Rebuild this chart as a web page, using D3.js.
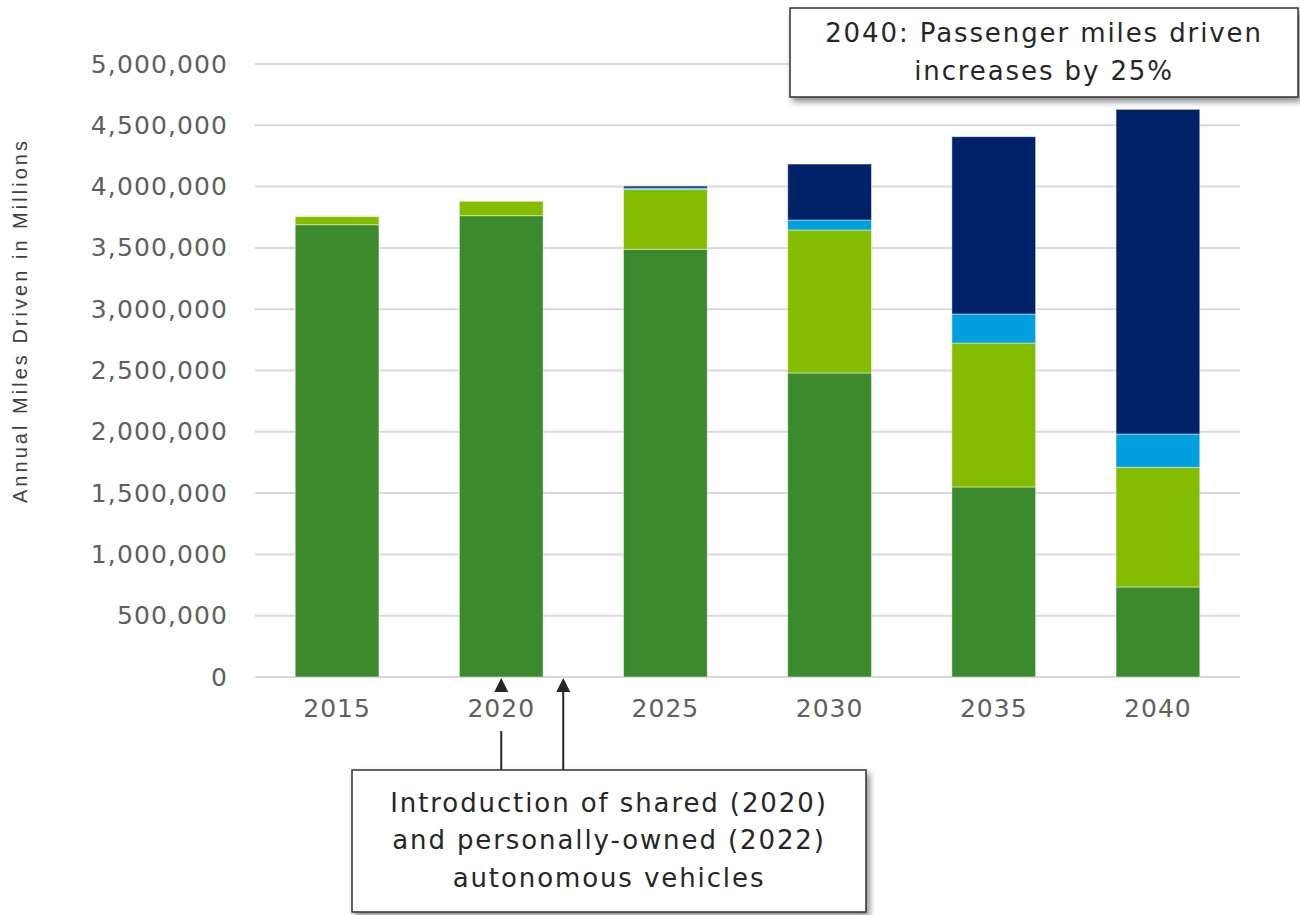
<!DOCTYPE html>
<html><head><meta charset="utf-8">
<script src="https://cdn.jsdelivr.net/npm/d3@7"></script>
<style>body{margin:0;background:#fff}svg{display:block}</style>
</head><body>
<svg id="c" width="1300" height="915"></svg>
<script>
const years = ["2015","2020","2025","2030","2035","2040"];
const seriesNames = ["Conventional vehicles","Personally-owned autonomous","Shared autonomous (personal)","Shared autonomous"];
const conventional = [3689000, 3763000, 3489000, 2480000, 1550000, 734000];
const personalAV   = [66000, 117000, 487000, 1166000, 1174000, 976000];
const sharedSmall  = [0, 0, 12000, 81000, 237000, 272000];
const sharedLarge  = [0, 0, 16000, 457000, 1446000, 2648000];
const yTicks = [0,500000,1000000,1500000,2000000,2500000,3000000,3500000,4000000,4500000,5000000];
const colors = ["#3c8a2e","#84bd00","#00a1de","#012169"];
const yTitle = "Annual Miles Driven in Millions";
const topNote = ["2040: Passenger miles driven","increases by 25%"];
const bottomNote = ["Introduction of shared (2020)","and personally-owned (2022)","autonomous vehicles"];

(function(){
const svg = d3.select("#c");
const font = "DejaVu Sans, Verdana, sans-serif";
const pL = 255, pR = 1240, pT = 64, pB = 677;

const x = d3.scaleBand().domain(years).range([pL, pR]).paddingInner(0.49).paddingOuter(0.245);
const y = d3.scaleLinear().domain([0,5000000]).range([pB, pT]);

const rows = years.map((yr,i)=>({year:yr, s0:conventional[i], s1:personalAV[i], s2:sharedSmall[i], s3:sharedLarge[i]}));
const stack = d3.stack().keys(["s0","s1","s2","s3"])(rows);

svg.append("g").selectAll("line").data(yTicks).join("line")
  .attr("x1", pL).attr("x2", pR)
  .attr("y1", d=>y(d)).attr("y2", d=>y(d))
  .attr("stroke", "#d9d9d9").attr("stroke-width", 2);

const yAxis = d3.axisLeft(y).tickValues(yTicks).tickFormat(d3.format(",")).tickSize(0).tickPadding(27);
const ya = svg.append("g").attr("transform", `translate(${pL},0)`).call(yAxis);
ya.select(".domain").remove();
ya.selectAll("text").attr("font-family", font).attr("font-size", 25).attr("fill", "#5f5f5f").attr("letter-spacing", "1.1px");

const xAxis = d3.axisBottom(x).tickSize(0).tickPadding(22);
const xa = svg.append("g").attr("transform", `translate(0,${pB})`).call(xAxis);
xa.select(".domain").remove();
xa.selectAll("text").attr("font-family", font).attr("font-size", 25).attr("fill", "#5f5f5f").attr("letter-spacing", "1px");

svg.append("g").selectAll("g").data(stack).join("g")
  .attr("fill", (d,i)=>colors[i])
  .selectAll("rect").data(d=>d).join("rect")
  .attr("x", d=>x(d.data.year))
  .attr("width", x.bandwidth())
  .attr("y", d=>y(d[1]))
  .attr("height", d=>Math.max(0, y(d[0]) - y(d[1])))
  .attr("stroke", "rgba(255,255,255,0.45)").attr("stroke-width", 1);

svg.append("text")
  .attr("transform", `translate(27,322) rotate(-90)`)
  .attr("text-anchor", "middle")
  .attr("font-family", "Liberation Sans, Arial, sans-serif").attr("font-size", 20).attr("fill", "#404040")
  .attr("textLength", 362).attr("lengthAdjust", "spacing")
  .text(yTitle);

const defs = svg.append("defs");
const f = defs.append("filter").attr("id","sh").attr("x","-10%").attr("y","-20%").attr("width","130%").attr("height","150%");
f.append("feDropShadow").attr("dx",3).attr("dy",4).attr("stdDeviation",3).attr("flood-color","#000").attr("flood-opacity",0.45);

function box(x0, y0, w, h, lines, lineYs) {
  svg.append("rect").attr("x",x0).attr("y",y0).attr("width",w).attr("height",h)
    .attr("fill","#fff").attr("stroke","#333").attr("stroke-width",1.5).attr("filter","url(#sh)");
  svg.append("g").selectAll("text").data(lines).join("text")
    .attr("x", x0 + w/2).attr("y", (d,i)=>lineYs[i])
    .attr("text-anchor","middle").attr("font-family", font).attr("font-size", 26)
    .attr("fill","#262626").attr("letter-spacing","1.9px")
    .text(d=>d);
}

box(790, 8, 508, 89, topNote, [42, 80]);

const arrowColor = "#262626";
const x2020 = x("2020") + x.bandwidth()/2;
const x2022 = x("2020") + x.bandwidth() + (x.step()-x.bandwidth())*0.25;
svg.append("line").attr("x1",x2020).attr("x2",x2020).attr("y1",731).attr("y2",771).attr("stroke",arrowColor).attr("stroke-width",2);
svg.append("path").attr("d",`M${x2020},678 L${x2020-7},692 L${x2020+7},692 Z`).attr("fill",arrowColor);
svg.append("line").attr("x1",x2022).attr("x2",x2022).attr("y1",690).attr("y2",771).attr("stroke",arrowColor).attr("stroke-width",2);
svg.append("path").attr("d",`M${x2022},678 L${x2022-7},692 L${x2022+7},692 Z`).attr("fill",arrowColor);

box(352, 770, 514, 142, bottomNote, [812, 849, 887]);
})();
</script>
</body></html>
